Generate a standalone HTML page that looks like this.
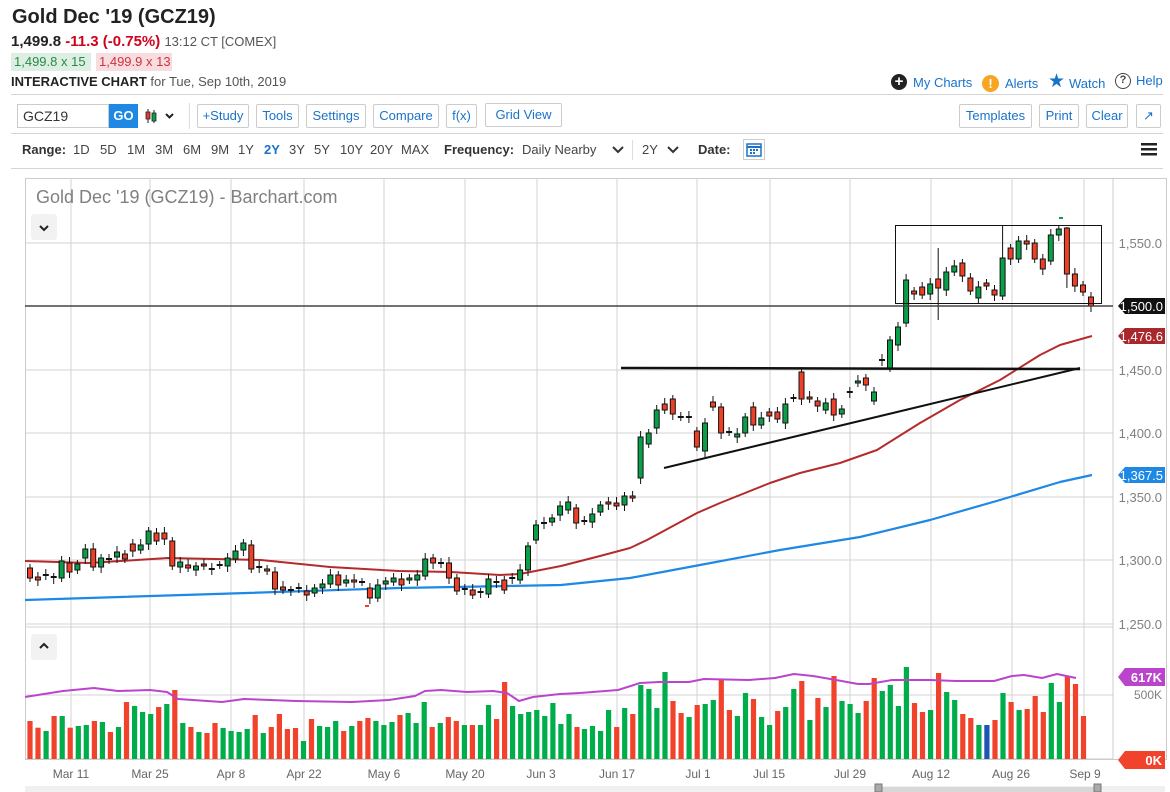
<!DOCTYPE html>
<html><head><meta charset="utf-8">
<style>
*{margin:0;padding:0;box-sizing:border-box}
body{width:1170px;height:792px;background:#fff;font-family:"Liberation Sans",sans-serif;position:relative;overflow:hidden;color:#222}
.a{position:absolute;white-space:nowrap}
.btn{position:absolute;height:24px;border:1px solid #ccc;border-radius:2px;color:#1a73c8;font-size:13px;line-height:22px;text-align:center;background:#fff}
.rg{position:absolute;top:142px;font-size:13px;color:#444}
.hr{position:absolute;height:1px;background:#d4d4d4}
</style></head><body>
<div class="a" style="left:12px;top:6px;font-size:20px;font-weight:bold;color:#222">Gold Dec '19 (GCZ19)</div>
<div class="a" style="left:11px;top:33px;font-size:15px;font-weight:bold">1,499.8 <span style="color:#d0021b">-11.3 (-0.75%)</span> <span style="font-weight:normal;font-size:13px;color:#555">13:12 CT [COMEX]</span></div>
<div class="a" style="left:11px;top:53px;width:80px;height:18px;background:#dcefe2;color:#2a8a45;font-size:13px;line-height:18px;padding-left:3px">1,499.8 x 15</div>
<div class="a" style="left:96px;top:53px;width:76px;height:18px;background:#f8dde0;color:#d0333b;font-size:13px;line-height:18px;padding-left:3px">1,499.9 x 13</div>
<div class="a" style="left:11px;top:74px;font-size:13px;color:#555"><b style="color:#222">INTERACTIVE CHART</b> for Tue, Sep 10th, 2019</div>

<div class="a" style="left:891px;top:74px;width:16px;height:16px;border-radius:50%;background:#222;color:#fff;font-size:15px;line-height:15px;text-align:center;font-weight:bold">+</div>
<div class="a" style="left:913px;top:75px;font-size:13px;color:#1a73c8">My Charts</div>
<div class="a" style="left:982px;top:75px;width:17px;height:17px;border-radius:50%;background:#f6a623;color:#fff;font-size:13px;line-height:17px;text-align:center;font-weight:bold">!</div>
<div class="a" style="left:1005px;top:76px;font-size:13px;color:#1a73c8">Alerts</div>
<div class="a" style="left:1048px;top:70px;font-size:19px;color:#1a73c8">★</div>
<div class="a" style="left:1069px;top:76px;font-size:13px;color:#1a73c8">Watch</div>
<div class="a" style="left:1115px;top:73px;width:16px;height:16px;border-radius:50%;border:1.5px solid #444;color:#444;font-size:11px;line-height:13px;text-align:center;font-weight:bold">?</div>
<div class="a" style="left:1136px;top:73px;font-size:13px;color:#1a73c8">Help</div>

<div class="hr" style="left:11px;top:94px;width:1152px"></div>
<div class="a" style="left:17px;top:104px;width:92px;height:24px;border:1px solid #ccc;font-size:14px;line-height:22px;padding-left:5px;color:#333">GCZ19</div>
<div class="a" style="left:109px;top:104px;width:29px;height:24px;background:#1e88e5;color:#fff;font-weight:bold;font-size:13px;line-height:24px;text-align:center">GO</div>
<svg class="a" style="left:145px;top:108px" width="32" height="16"><line x1="3" y1="1" x2="3" y2="15" stroke="#222"/><rect x="1" y="4" width="4" height="7" fill="#e53b2c" stroke="#222" stroke-width=".8"/><line x1="9" y1="2" x2="9" y2="15" stroke="#222"/><rect x="7" y="5" width="4" height="8" fill="#0a9e49" stroke="#222" stroke-width=".8"/><path d="M21 6l3.5 3.5L28 6" fill="none" stroke="#222" stroke-width="2"/></svg>
<div class="a" style="left:189px;top:103px;width:1px;height:26px;background:#ddd"></div>
<div class="btn" style="left:197px;top:104px;width:52px">+Study</div>
<div class="btn" style="left:256px;top:104px;width:43px">Tools</div>
<div class="btn" style="left:306px;top:104px;width:60px">Settings</div>
<div class="btn" style="left:373px;top:104px;width:66px">Compare</div>
<div class="btn" style="left:446px;top:104px;width:31px">f(x)</div>
<div class="btn" style="left:485px;top:103px;width:77px">Grid View</div>
<div class="btn" style="left:959px;top:104px;width:73px">Templates</div>
<div class="btn" style="left:1039px;top:104px;width:40px">Print</div>
<div class="btn" style="left:1086px;top:104px;width:42px">Clear</div>
<div class="btn" style="left:1136px;top:104px;width:25px">↗</div>
<div class="hr" style="left:11px;top:133px;width:1152px"></div>

<div class="rg" style="left:22px;font-weight:bold;color:#333">Range:</div>
<div class="rg" style="left:73px">1D</div><div class="rg" style="left:100px">5D</div><div class="rg" style="left:127px">1M</div><div class="rg" style="left:155px">3M</div><div class="rg" style="left:183px">6M</div><div class="rg" style="left:211px">9M</div><div class="rg" style="left:238px">1Y</div><div class="rg" style="left:264px;color:#1a73c8;font-weight:bold">2Y</div><div class="rg" style="left:289px">3Y</div><div class="rg" style="left:314px">5Y</div><div class="rg" style="left:340px">10Y</div><div class="rg" style="left:370px">20Y</div><div class="rg" style="left:401px">MAX</div>
<div class="rg" style="left:444px;font-weight:bold;color:#333">Frequency:</div>
<div class="rg" style="left:522px">Daily Nearby</div>
<svg class="a" style="left:612px;top:145px" width="12" height="10"><path d="M1 2l5 5 5-5" fill="none" stroke="#333" stroke-width="2"/></svg>
<div class="a" style="left:632px;top:140px;width:1px;height:20px;background:#ddd"></div>
<div class="rg" style="left:642px">2Y</div>
<svg class="a" style="left:667px;top:145px" width="12" height="10"><path d="M1 2l5 5 5-5" fill="none" stroke="#333" stroke-width="2"/></svg>
<div class="rg" style="left:698px;font-weight:bold;color:#333">Date:</div>
<div class="a" style="left:743px;top:139px;width:22px;height:21px;border:1px solid #ccc"></div>
<svg class="a" style="left:746px;top:142px" width="16" height="15"><rect x="1" y="2" width="14" height="12" fill="none" stroke="#1a73c8" stroke-width="1.5"/><line x1="1" y1="5" x2="15" y2="5" stroke="#1a73c8" stroke-width="2"/><g fill="#1a73c8"><rect x="4" y="7" width="2" height="2"/><rect x="7" y="7" width="2" height="2"/><rect x="10" y="7" width="2" height="2"/><rect x="4" y="10" width="2" height="2"/><rect x="7" y="10" width="2" height="2"/></g></svg>
<svg class="a" style="left:1141px;top:142px" width="16" height="14"><rect y="1" width="16" height="2.5" fill="#222"/><rect y="6" width="16" height="2.5" fill="#222"/><rect y="11" width="16" height="2.5" fill="#222"/></svg>
<div class="hr" style="left:11px;top:168px;width:1152px"></div>

<svg id="ch" class="a" style="left:0;top:0" width="1170" height="792" font-family="Liberation Sans, sans-serif"></svg>
<div class="a" style="left:36px;top:187px;font-size:18px;color:#808080">Gold Dec '19 (GCZ19) - Barchart.com</div>
<div class="a" style="left:31px;top:214px;width:26px;height:26px;background:#f2f2f2;border-radius:3px"></div>
<svg class="a" style="left:38px;top:224px" width="12" height="8"><path d="M2 2l4 4 4-4" fill="none" stroke="#222" stroke-width="2"/></svg>
<div class="a" style="left:31px;top:634px;width:26px;height:26px;background:#f2f2f2;border-radius:3px"></div>
<svg class="a" style="left:38px;top:642px" width="12" height="8"><path d="M2 6l4-4 4 4" fill="none" stroke="#222" stroke-width="2"/></svg>

<script>
var S=document.getElementById('ch'),h='';
function L(x1,y1,x2,y2,c,w){h+='<line x1="'+x1+'" y1="'+y1+'" x2="'+x2+'" y2="'+y2+'" stroke="'+c+'" stroke-width="'+(w||1)+'"/>';}
function R(x,y,w,hh,f,s){h+='<rect x="'+x+'" y="'+y+'" width="'+w+'" height="'+hh+'" fill="'+f+'"'+(s?' stroke="'+s+'" stroke-width="1"':'')+'/>';}
function T(x,y,t,c,sz,anc,wt){h+='<text x="'+x+'" y="'+y+'" fill="'+c+'" font-size="'+(sz||12)+'" text-anchor="'+(anc||'start')+'"'+(wt?' font-weight="bold"':'')+'>'+t+'</text>';}
function P(pts,c,w){h+='<polyline points="'+pts.map(function(p){return p.join(',')}).join(' ')+'" fill="none" stroke="'+c+'" stroke-width="'+w+'" stroke-linejoin="round"/>';}
// frame
R(25.5,178.5,1141,581,'none','#ccc');
var G='#d3d3d3';
[243,370,433,497,560].forEach(function(y){L(25,y,1113,y,G);});
L(25,624,1113,624,G);L(25,627,1113,627,G);L(25,695,1113,695,G);L(25,759,1113,759,'#ccc');
[71,150,231,304,384,465,537,617,697,770,850,931,1012,1084].forEach(function(x){L(x,178,x,759,G);});
L(1113,178,1113,759,'#ccc');
// price labels
[[243,'1,550.0'],[370,'1,450.0'],[433,'1,400.0'],[497,'1,350.0'],[560,'1,300.0'],[624,'1,250.0']].forEach(function(a){T(1162,a[0]+5,a[1],'#808080',13,'end');});
T(1162,699,'500K','#808080',12,'end');
// MAs
P([[25,600],[247,593],[399,588],[561,585],[630,578],[700,565],[780,550],[860,537],[930,520],[1000,500],[1060,482],[1092,475]],'#1e88e5',2.2);
P([[25,561],[89,563],[168,558],[261,560],[330,567],[399,571],[451,572],[500,575],[520,574],[561,566],[600,556],[630,548],[647,540],[697,513],[720,503],[770,483],[800,473],[840,463],[877,450],[920,423],[960,400],[1000,380],[1040,355],[1060,345],[1092,336]],'#b52b2b',2);
// candles
var E=[[568,578],[577,580],[575,576],[577,578],[578,561],[563,572],[570,564],[558,549],[549,567],[567,558],[559,560],[557,552],[554,559],[544,551],[550,545],[544,531],[533,541],[533,539],[541,566],[567,562],[565,568],[570,566],[564,566],[569,569],[565,565],[566,558],[559,551],[550,543],[545,569],[567,567],[569,571],[572,589],[587,590],[590,590],[588,589],[591,595],[593,588],[588,584],[584,575],[575,585],[583,580],[580,582],[582,582],[588,598],[598,585],[584,581],[582,578],[579,585],[580,578],[580,575],[576,559],[558,563],[563,564],[563,578],[578,591],[589,589],[590,595],[592,592],[594,579],[582,582],[580,590],[578,578],[580,570],[570,546]];
var M=[[540,525],[523,523],[522,518],[515,506],[510,502],[508,523],[521,521],[522,514],[512,505],[502,504],[503,506],[505,496],[496,498],[478,437],[444,433],[428,410],[404,410],[399,414],[417,417],[417,417],[431,447],[451,423],[402,407],[407,433],[432,432],[437,434],[433,417],[407,425],[425,418],[412,416],[412,419],[423,404],[398,398],[372,399],[397,399],[401,406],[410,403],[399,415],[414,409],[392,392],[383,381],[378,385],[401,392],[360,360]];
var Lc=[[368,340],[345,327],[323,280],[291,294],[287,295],[294,284],[279,288],[290,272],[272,266],[263,276],[278,291],[298,287],[283,286],[290,295],[296,258],[248,259],[259,241],[241,244],[243,259],[259,269],[261,235],[235,229],[228,274],[274,286],[285,292],[297,306]];
var C=[];
E.forEach(function(c,i){C.push([30+i*(498/(E.length-1)),c]);});
M.forEach(function(c,i){C.push([536+i*(346/(M.length-1)),c]);});
Lc.forEach(function(c,i){C.push([890+i*(201/(Lc.length-1)),c]);});
// trend lines & box (drawn before candles partly)
C.forEach(function(k,i){var x=k[0],o=k[1][0],c=k[1][1];var t=Math.min(o,c),b=Math.max(o,c);var hi=t-4-(i%3),lo=b+4+(i%2)*2;
 if(Math.abs(x-938)<3){hi=248;lo=320;} if(Math.abs(x-1002)<3){hi=225;} if(Math.abs(x-1067)<3){hi=227;lo=288;}
 L(x.toFixed(1),hi,x.toFixed(1),lo,'#111',1);
 if(b-t<1.5){L((x-3).toFixed(1),t,(x+3).toFixed(1),t,'#111',2);}
 else R((x-2.5).toFixed(1),t,5,b-t,c<o?'#0a9e49':'#ee4026','#111');});
h+='<path d="M1059 218h4" stroke="#0a9e49" stroke-width="2"/><path d="M365 606h4" stroke="#ee4026" stroke-width="2"/>';
L(25,306,1113,306,'#444',1.5);
R(895.5,225.5,206,78,'none','#111');
L(621,368,1080,369,'#111',2.5);
L(664,468,1080,368,'#111',2);
// badges
function B(y,t,bg){h+='<path d="M1118 '+y+'l7 -8h40v16h-40z" fill="'+bg+'"/>';T(1163,y+5,t,'#fff',13,'end');}
B(306,'1,500.0','#111');B(336,'1,476.6','#a9282c');B(475,'1,367.5','#1e88e5');
// volume
var V5='r303 r323 g333 r288 g288 r323 g318 g315 r303 g306 r336 g321 r246 g258 g276 g282 r261 g252 r210 g309 r321 g336 r339 r309 g324 g333 g336 g327 r285 g339 r321 r282 r327 r324 g363 r297 g318 g321 g303 r333 g318 r303 r294 g303 g315 g306 r285 g279 g309 g246 r321 g309 r291 r303 g315 r315 g315 g255 r297 r186 g258 g282 g276 g270 g288 g249 g312 g282 r321'.split(' ');
var V6='g327 g318 g333 g270 r321 g264 r282 g195 g207 g264 g156 r243 r279 g291 r255 g252 g240 r177 r270 g288 g219 r237 g291 g315 r273 g261 g207 r183 g300 r234 g261 r168 g243 g252 g279 r243 r174 g213 g195 g258 g141 r249 r276 g270 r159 g216 g240 r282 r294 g315 b315 r300 g219 r246 g270 r267 r228 r276 g189 g246 r168 r192 r288'.split(' ');
var col={r:'#f1432b',g:'#00ad4b',b:'#1e55b5'};
function VB(v,x){var y=620+(+v.slice(1))/3;R((x-2.6).toFixed(1),y.toFixed(1),5.2,(759-y).toFixed(1),col[v[0]]);}
V5.forEach(function(v,i){VB(v,30+i*(547/(V5.length-1)));});
V6.forEach(function(v,i){VB(v,584.5+i*(499/(V6.length-1)));});
P([[25,697],[63,691],[94,688],[118,691],[150,690],[167,692],[178,699],[222,702],[244,699],[296,701],[352,702],[389,700],[415,696],[425,691],[441,690],[467,692],[493,691],[507,693],[519,701],[533,697],[560,694],[580,693],[618,690],[640,683],[659,682],[689,682],[704,679],[749,680],[775,678],[794,674],[813,676],[836,680],[858,684],[869,684],[892,680],[930,680],[956,681],[994,681],[1012,676],[1024,675],[1042,678],[1057,674],[1076,678]],'#bb44cc',2);
h+='<path d="M1118 677l7 -9h40v18h-40z" fill="#bb44cc"/>';T(1162,682,'617K','#fff',13,'end',1);
h+='<path d="M1118 760l7 -9h40v18h-40z" fill="#f1432b"/>';T(1162,765,'0K','#fff',13,'end',1);
// x labels
[[71,'Mar 11'],[150,'Mar 25'],[231,'Apr 8'],[304,'Apr 22'],[384,'May 6'],[465,'May 20'],[541,'Jun 3'],[617,'Jun 17'],[698,'Jul 1'],[769,'Jul 15'],[850,'Jul 29'],[931,'Aug 12'],[1011,'Aug 26'],[1085,'Sep 9']].forEach(function(a){T(a[0],778,a[1],'#666',12,'middle');});
// scrollbar
R(25,786,1140,6,'#f0f0f0');R(880,787,216,5,'#d8d8d8');R(875,784,7,8,'#aaa','#777');R(1094,784,7,8,'#aaa','#777');
S.innerHTML=h;
</script>
</body></html>
